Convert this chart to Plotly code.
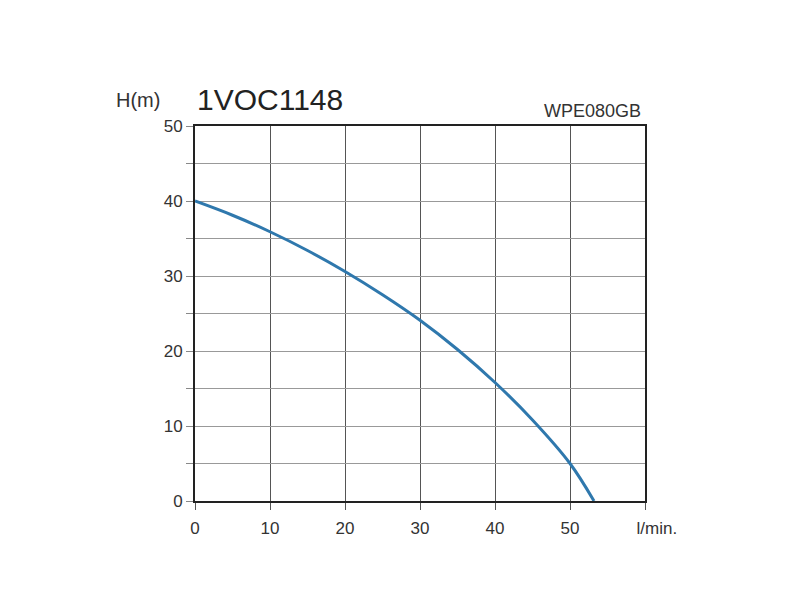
import plotly.graph_objects as go

# pump curve
portata = [0, 5, 10, 15, 20, 25, 30, 35, 40, 45, 50, 53.2]
prevalenza = [40.0, 38.1, 35.9, 33.4, 30.6, 27.5, 24.1, 20.2, 15.8, 10.8, 5.0, 0.0]

x_ticks = [0, 10, 20, 30, 40, 50, 60]
x_labels = ["0", "10", "20", "30", "40", "50", "\u00a0\u00a0\u00a0\u00a0\u00a0l/min."]
y_ticks = [0, 5, 10, 15, 20, 25, 30, 35, 40, 45, 50]
y_labels = ["0", "", "10", "", "20", "", "30", "", "40", "", "50"]

fig = go.Figure()
fig.add_trace(go.Scatter(x=portata, y=prevalenza, mode="lines",
                         line=dict(color="#2f78ad", width=3, shape="spline", smoothing=1.0),
                         showlegend=False, hoverinfo="skip"))

fig.update_layout(
    width=800, height=600,
    margin=dict(l=187, r=163, t=118, b=107),
    paper_bgcolor="white", plot_bgcolor="white",
    font=dict(family="Liberation Sans, Arial, sans-serif", color="#222", size=16),
    xaxis=dict(range=[0, 60], tickmode="array", tickvals=x_ticks, ticktext=x_labels,
               showgrid=True, gridcolor="#555", gridwidth=1,
               ticks="outside", ticklen=7, tickcolor="#555", tickwidth=1,
               ticklabelstandoff=4,
               showline=True, linecolor="#222", linewidth=2, mirror=True,
               zeroline=False, fixedrange=True, tickfont=dict(size=17, color="#333")),
    yaxis=dict(range=[0, 50], tickmode="array", tickvals=y_ticks, ticktext=y_labels,
               showgrid=True, gridcolor="#999", gridwidth=1,
               ticks="outside", ticklen=7, tickcolor="#888", tickwidth=1,
               showline=True, linecolor="#222", linewidth=2, mirror=True,
               zeroline=False, fixedrange=True, tickfont=dict(size=17, color="#333")),
    annotations=[
        dict(text="H(m)", xref="paper", yref="paper", x=-0.18, y=1.07,
             xanchor="left", yanchor="middle", showarrow=False,
             font=dict(size=20, color="#333")),
        dict(text="1VOC1148", xref="paper", yref="paper", x=0.0, y=1.07,
             xanchor="left", yanchor="middle", showarrow=False,
             font=dict(size=30, color="#222")),
        dict(text="WPE080GB", xref="paper", yref="paper", x=0.995, y=1.04,
             xanchor="right", yanchor="middle", showarrow=False,
             font=dict(size=18, color="#333")),
    ],
)

fig.write_html("out.html")
